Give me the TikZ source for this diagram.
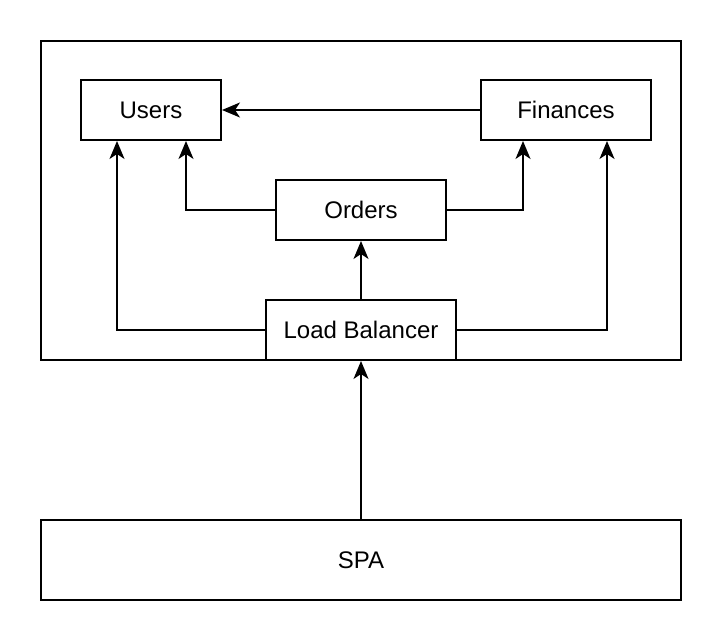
\documentclass[tikz,border=0pt]{standalone}
\usepackage{fontspec}
\setmainfont{Liberation Sans}
\usetikzlibrary{arrows.meta}
\begin{document}
\begin{tikzpicture}[x=1pt,y=-1pt,
  box/.style={draw=black,line width=2pt,fill=white,inner sep=0pt,font=\fontsize{24}{28}\selectfont},
  conn/.style={draw=black,line width=2pt,-{Stealth[length=18pt,width=15pt,inset=5pt]}}]
\useasboundingbox (0,0) rectangle (722,644);
\draw[line width=2pt] (41,41) rectangle (681,360);
\node[box,minimum width=140pt,minimum height=60pt] (users) at (151,110) {Users};
\node[box,minimum width=170pt,minimum height=60pt] (fin) at (566,110) {Finances};
\node[box,minimum width=170pt,minimum height=60pt] (orders) at (361,210) {Orders};
\node[box,minimum width=190pt,minimum height=60pt] (lb) at (361,330) {Load Balancer};
\node[box,minimum width=640pt,minimum height=80pt] (spa) at (361,560) {SPA};
\draw[conn] (fin.west) -- (users.east);
\draw[conn] (orders.west) -| ([xshift=35pt]users.south);
\draw[conn] (orders.east) -| ([xshift=-43pt]fin.south);
\draw[conn] (lb.north) -- (orders.south);
\draw[conn] (lb.west) -| ([xshift=-34pt]users.south);
\draw[conn] (lb.east) -| ([xshift=41pt]fin.south);
\draw[conn] (spa.north) -- (lb.south);
\end{tikzpicture}
\end{document}
